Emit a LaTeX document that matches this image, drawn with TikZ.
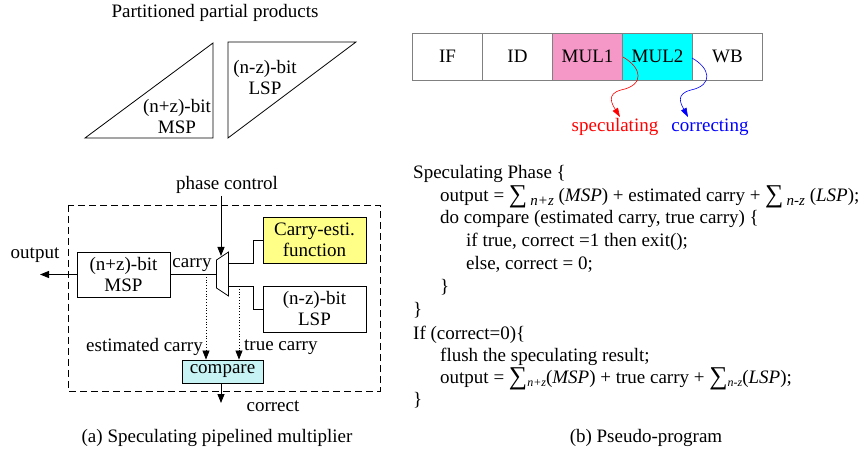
\documentclass[tikz,border=0pt]{standalone}
\usepackage{fontspec}
\usepackage{graphicx}
\setmainfont{Liberation Serif}
\usetikzlibrary{arrows.meta}
\definecolor{boxyellow}{RGB}{255,255,136}
\definecolor{boxcyan}{RGB}{200,243,245}
\definecolor{mulpink}{RGB}{245,152,200}
\definecolor{mulcyan}{RGB}{0,255,255}
\definecolor{stagegray}{RGB}{128,128,128}
\newcommand{\sumA}[1]{\raisebox{-1pt}{\scalebox{1.35}{∑}}\,\raisebox{-4pt}{\fontsize{15}{15}\selectfont\itshape #1}}
\newcommand{\sumB}[1]{\raisebox{-1pt}{\scalebox{1.35}{∑}}\raisebox{-3pt}{\fontsize{12}{12}\selectfont\itshape #1}}
\tikzset{
  txt/.style={font=\fontsize{19}{21}\selectfont, inner sep=0pt, align=center},
  code/.style={font=\fontsize{19}{21}\selectfont, inner sep=0pt, anchor=base west},
  blk/.style={draw, line width=0.8pt, inner sep=0pt, font=\fontsize{19}{21}\selectfont, align=center},
  stage/.style={draw=stagegray, line width=0.8pt, minimum width=70pt, minimum height=47pt, inner sep=0pt, font=\fontsize{19}{21}\selectfont},
  wire/.style={line width=0.8pt},
  tip/.style={-{Triangle[length=9pt,width=7pt]}},
  ctip/.style={-{Triangle[length=9pt,width=6pt]}}
}
\begin{document}
\begin{tikzpicture}[x=1pt,y=-1pt]
\useasboundingbox (0,0) rectangle (863,457);
% ---------- (a) top: partitioned partial products
\node[txt] (title) at (215,13) {Partitioned partial products};
\draw[wire] (85,138) -- (213,43) -- (213,138) -- cycle;
\draw[wire] (228,42) -- (356,42) -- (228,138) -- cycle;
\node[txt] (tmsp) at (177,117) {(n+z)-bit\\MSP};
\node[txt] (tlsp) at (265,78) {(n-z)-bit\\LSP};
% ---------- (a) speculating multiplier
\draw[wire, dashed, dash pattern=on 7pt off 4pt] (68,205) rectangle (380,391);
\node[txt] (phase) at (227,185) {phase control};
\node[blk, minimum width=93pt, minimum height=45pt] (msp) at (123.5,274.5) {(n+z)-bit\\MSP};
\node[blk, fill=boxyellow, minimum width=103pt, minimum height=46pt] (cef) at (314.5,240) {Carry-esti.\\function};
\node[blk, minimum width=103pt, minimum height=46pt] (lsp) at (314.5,309) {(n-z)-bit\\LSP};
\node[blk, fill=boxcyan, minimum width=81pt, minimum height=23pt] (cmp) at (222.5,371.5) {compare};
% mux
\draw[wire] (216.5,260) -- (228.5,252) -- (228.5,296) -- (216.5,288) -- cycle;
\coordinate (muxin) at (216.5,274);
\coordinate (muxtop) at (221,256);
\coordinate (muxu) at (228.5,263);
\coordinate (muxl) at (228.5,286);
\coordinate (phs) at (221,196);
\draw[wire, tip] (phs) -- (muxtop);
\draw[wire] (msp.east |- muxin) -- (muxin);
\node[txt] (carry) at (192,265) {carry};
\draw[wire] (muxu) -- (253,263) |- (cef.west);
\draw[wire] (muxl) -- (253,286) |- (lsp.west);
% output
\coordinate (outend) at (40,274.5);
\draw[wire, tip] (msp.west) -- (outend);
\node[txt] (outl) at (35,255) {output};
% dotted carries
\coordinate (ecs) at (206,274);
\coordinate (tcs) at (239,286);
\draw[wire, dotted, tip] (ecs) -- (ecs |- cmp.north);
\draw[wire, dotted, tip] (tcs) -- (tcs |- cmp.north);
\node[txt, anchor=east] (ecl) at (203,347) {estimated carry};
\node[txt, anchor=west] (tcl) at (244,347) {true carry};
% correct
\coordinate (corend) at (221,403);
\draw[wire, tip] (cmp.south -| corend) -- (corend);
\node[txt] (corl) at (273,406) {correct};
\node[txt] (capa) at (217,438) {(a) Speculating pipelined multiplier};
% ---------- (b) pipeline
\node[stage] (if) at (447.5,56.5) {IF};
\node[stage] (id) at (517.5,56.5) {ID};
\node[stage, fill=mulpink] (m1) at (587.5,56.5) {MUL1};
\node[stage, fill=mulcyan] (m2) at (657.5,56.5) {MUL2};
\node[stage] (wb) at (727.5,56.5) {WB};
\node[txt, text=red] (spec) at (615,127) {speculating};
\node[txt, text=blue] (corr) at (710,127) {correcting};
\draw[red, line width=0.6pt, ctip] (623,57) .. controls (642,68) and (645,85) .. (621,90) .. controls (606,94) and (612,104) .. (620,117);
\draw[blue, line width=0.6pt, ctip] (692,58) .. controls (710,68) and (714,85) .. (691,90) .. controls (675,94) and (681,104) .. (688,117);
% ---------- (b) pseudo-program
\node[code] (l0) at (413,179) {Speculating Phase \{};
\node[code] (l1) at (440,201.5) {output = \sumA{n+z} (\textit{MSP}) + estimated carry + \sumA{n-z} (\textit{LSP});};
\node[code] (l2) at (440,224) {do compare (estimated carry, true carry) \{};
\node[code] (l3) at (466,247) {if true, correct =1 then exit();};
\node[code] (l4) at (466,270) {else, correct = 0;};
\node[code] (l5) at (440,293) {\}};
\node[code] (l6) at (413,316) {\}};
\node[code] (l7) at (413,340) {If (correct=0)\{};
\node[code] (l8) at (440,362) {flush the speculating result;};
\node[code] (l9) at (440,384) {output = \sumB{n+z}(\textit{MSP}) + true carry + \sumB{n-z}(\textit{LSP});};
\node[code] (l10) at (413,406) {\}};
\node[txt] (capb) at (646,438) {(b) Pseudo-program};
\end{tikzpicture}
\end{document}
